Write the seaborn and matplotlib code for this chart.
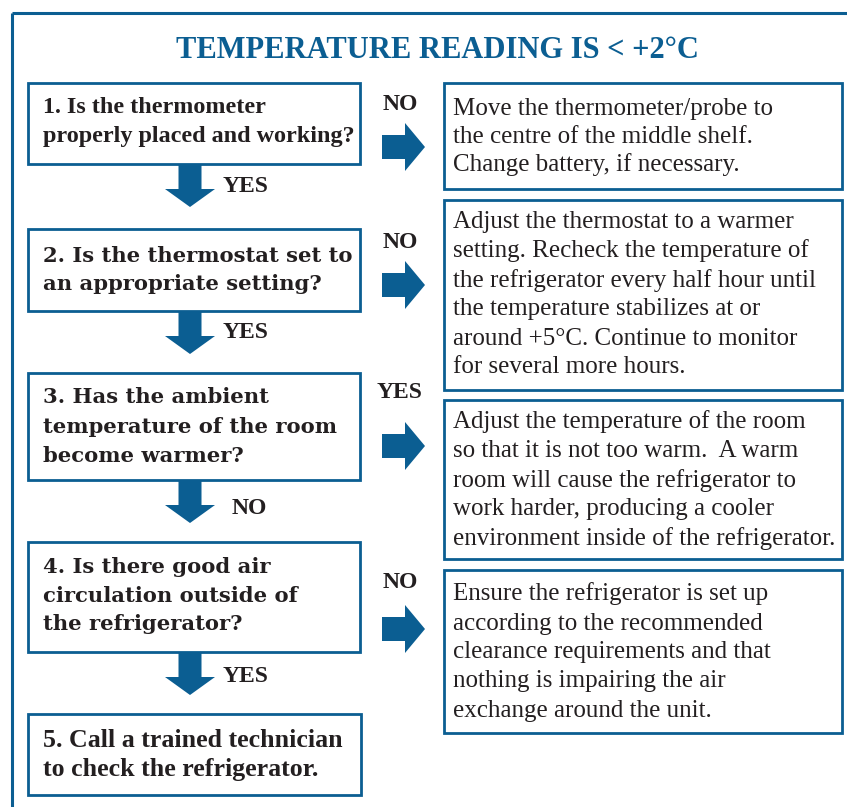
import matplotlib
matplotlib.use("Agg")
import matplotlib.pyplot as plt
import seaborn as sns
from matplotlib.patches import Rectangle, Polygon

# ---------------- data ----------------
title = "TEMPERATURE READING IS < +2°C"

questions = [
    ["1. Is the thermometer", "properly placed and working?"],
    ["2. Is the thermostat set to", "an appropriate setting?"],
    ["3. Has the ambient", "temperature of the room", "become warmer?"],
    ["4. Is there good air", "circulation outside of", "the refrigerator?"],
    ["5. Call a trained technician", "to check the refrigerator."],
]
question_styles = ["narrow", "wide", "wide", "wide", "narrow"]

actions = [
    ["Move the thermometer/probe to", "the centre of the middle shelf.",
     "Change battery, if necessary."],
    ["Adjust the thermostat to a warmer", "setting. Recheck the temperature of",
     "the refrigerator every half hour until", "the temperature stabilizes at or",
     "around +5°C. Continue to monitor", "for several more hours."],
    ["Adjust the temperature of the room", "so that it is not too warm.  A warm",
     "room will cause the refrigerator to", "work harder, producing a cooler",
     "environment inside of the refrigerator."],
    ["Ensure the refrigerator is set up", "according to the recommended",
     "clearance requirements and that", "nothing is impairing the air",
     "exchange around the unit."],
]

side_labels = ["NO", "NO", "YES", "NO"]
down_labels = ["YES", "YES", "NO", "YES"]

# ---------------- layout (pixels) ----------------
W, H = 847, 807
BLUE = "#0b5e92"
INK = "#231f20"

left_boxes = [(28, 83, 360, 164), (28, 229, 360, 311), (28, 373, 360, 480),
              (28, 542, 360, 652), (28, 714, 361, 795)]
left_base = [[113, 142], [262, 290], [403, 433, 462], [573, 602, 630], [747, 776]]
left_size = [17.4, 15.2, 15.2, 15.2, 18.6]

right_boxes = [(444, 83, 842, 189), (444, 200, 842, 390), (444, 400, 842, 559),
               (444, 570, 842, 733)]
right_base = [[115, 143, 171], [228, 257, 287, 315, 345, 373],
              [428, 457, 487, 515, 545], [600, 630, 658, 687, 717]]

side_arrow_y = [147, 285, 446, 629]
side_label_y = [105, 243, 393, 583]
down_label_y = [187, 333, 508, 677]
down_label_x = [223, 223, 232, 223]

sns.set_theme(style="white")
plt.rcParams["font.family"] = ["Liberation Serif", "DejaVu Serif"]

fig = plt.figure(figsize=(W / 100, H / 100), dpi=100)
ax = fig.add_axes([0, 0, 1, 1])
ax.set_xlim(0, W)
ax.set_ylim(H, 0)
ax.axis("off")
sns.despine(ax=ax, left=True, bottom=True)

# outer frame
ax.plot([12, W + 5], [13, 13], color=BLUE, lw=2.2, solid_capstyle="butt")
ax.plot([12, 12], [13, H + 5], color=BLUE, lw=2.2, solid_capstyle="butt")

# title
ax.text(437, 58, title, ha="center", va="baseline", color=BLUE,
        fontsize=22, fontweight="bold", family=["Liberation Serif"])


def box(x0, y0, x1, y1):
    ax.add_patch(Rectangle((x0, y0), x1 - x0, y1 - y0, fill=False,
                           edgecolor=BLUE, lw=2.0))


def down_arrow(xc, ytop, ytip):
    sw, hw, hl = 11.5, 25, 18
    pts = [(xc - sw, ytop), (xc + sw, ytop), (xc + sw, ytip - hl),
           (xc + hw, ytip - hl), (xc, ytip), (xc - hw, ytip - hl),
           (xc - sw, ytip - hl)]
    ax.add_patch(Polygon(pts, closed=True, facecolor=BLUE, edgecolor="none"))


def right_arrow(x0, xtip, yc):
    sw, hw, hl = 12, 24, 20
    pts = [(x0, yc - sw), (xtip - hl, yc - sw), (xtip - hl, yc - hw),
           (xtip, yc), (xtip - hl, yc + hw), (xtip - hl, yc + sw),
           (x0, yc + sw)]
    ax.add_patch(Polygon(pts, closed=True, facecolor=BLUE, edgecolor="none"))


for i, (b, lines) in enumerate(zip(left_boxes, questions)):
    box(*b)
    fam = ["Liberation Serif"] if question_styles[i] == "narrow" else ["DejaVu Serif"]
    for ln, yb in zip(lines, left_base[i]):
        ax.text(43, yb, ln, ha="left", va="baseline", color=INK,
                fontsize=left_size[i], fontweight="bold", family=fam)

for i, (b, lines) in enumerate(zip(right_boxes, actions)):
    box(*b)
    for ln, yb in zip(lines, right_base[i]):
        ax.text(453, yb, ln, ha="left", va="baseline", color=INK,
                fontsize=18.0, family=["Liberation Serif"])

for i in range(4):
    down_arrow(190, left_boxes[i][3], left_boxes[i][3] + 43)
    ax.text(down_label_x[i], down_label_y[i], down_labels[i], ha="left",
            va="center", color=INK, fontsize=17, fontweight="bold",
            family=["Liberation Serif"])
    right_arrow(382, 425, side_arrow_y[i])
    ax.text(400, side_label_y[i], side_labels[i], ha="center", va="center",
            color=INK, fontsize=17, fontweight="bold",
            family=["Liberation Serif"])

fig.savefig("out.png", dpi=100)
